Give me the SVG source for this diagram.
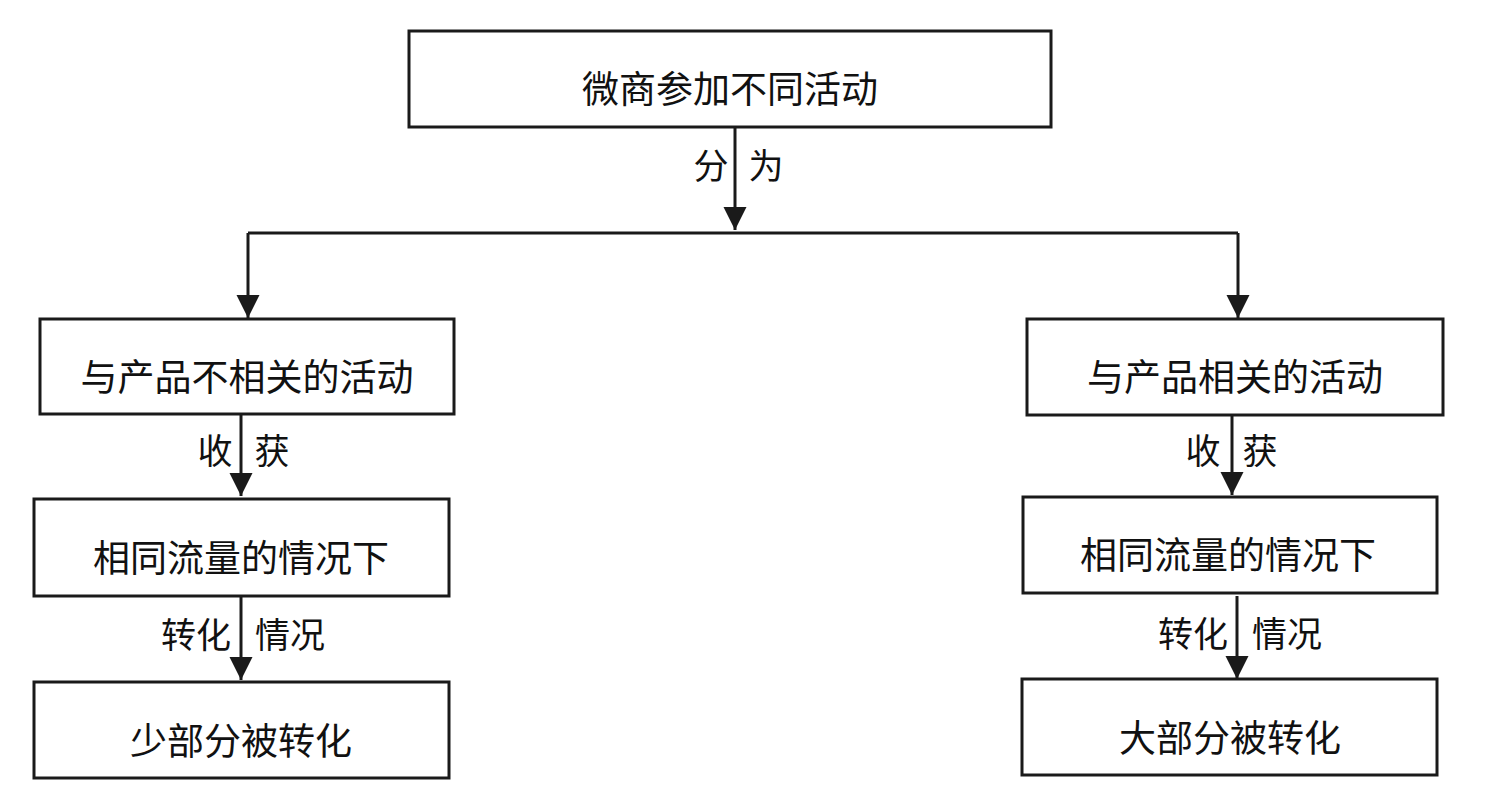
<svg xmlns="http://www.w3.org/2000/svg" width="1485" height="796" viewBox="0 0 1485 796">
<style>
.box{fill:#fff;stroke:#1a1a1a;stroke-width:3}
.t{font-family:"Noto Sans CJK SC","Noto Sans CJK JP",sans-serif;font-size:37px;fill:#111;text-anchor:middle}
.l{font-family:"Noto Sans CJK SC","Noto Sans CJK JP",sans-serif;font-size:35px;fill:#111;text-anchor:middle}
.c{fill:none;stroke:#1a1a1a;stroke-width:3}
</style>
<defs>
<marker id="ah" markerUnits="userSpaceOnUse" markerWidth="24" markerHeight="24" refX="23" refY="11.5" orient="auto">
<path d="M0,0 L23,11.5 L0,23 z" fill="#1a1a1a"/>
</marker>
</defs>
<rect width="1485" height="796" fill="#fff"/>
<g id="connectors">
<line class="c" x1="735" y1="127" x2="735" y2="230" marker-end="url(#ah)"/>
<line class="c" x1="248" y1="233" x2="1238" y2="233"/>
<line class="c" x1="248" y1="233" x2="248" y2="318" marker-end="url(#ah)"/>
<line class="c" x1="1238" y1="233" x2="1238" y2="318" marker-end="url(#ah)"/>
<line class="c" x1="241" y1="414" x2="241" y2="496" marker-end="url(#ah)"/>
<line class="c" x1="241" y1="596" x2="241" y2="680" marker-end="url(#ah)"/>
<line class="c" x1="1232" y1="415" x2="1232" y2="495" marker-end="url(#ah)"/>
<line class="c" x1="1237" y1="596" x2="1237" y2="679" marker-end="url(#ah)"/>
<text class="l" x="711" y="179">分</text>
<text class="l" x="766" y="179">为</text>
<text class="l" x="215" y="464">收</text>
<text class="l" x="272" y="464">获</text>
<text class="l" x="196" y="648">转化</text>
<text class="l" x="290" y="648">情况</text>
<text class="l" x="1203" y="464">收</text>
<text class="l" x="1260" y="464">获</text>
<text class="l" x="1193" y="647">转化</text>
<text class="l" x="1287" y="647">情况</text>
</g>
<g id="n-top">
<rect class="box" x="409" y="31" width="642" height="96"/>
<text class="t" x="730" y="103">微商参加不同活动</text>
</g>
<g id="n-left1">
<rect class="box" x="40" y="319" width="414" height="95"/>
<text class="t" x="247" y="391">与产品不相关的活动</text>
</g>
<g id="n-left2">
<rect class="box" x="34" y="499" width="415" height="97"/>
<text class="t" x="241" y="572">相同流量的情况下</text>
</g>
<g id="n-left3">
<rect class="box" x="34" y="682" width="415" height="96"/>
<text class="t" x="241" y="755">少部分被转化</text>
</g>
<g id="n-right1">
<rect class="box" x="1027" y="319" width="416" height="96"/>
<text class="t" x="1235" y="391">与产品相关的活动</text>
</g>
<g id="n-right2">
<rect class="box" x="1023" y="497" width="414" height="96"/>
<text class="t" x="1228" y="569">相同流量的情况下</text>
</g>
<g id="n-right3">
<rect class="box" x="1022" y="679" width="415" height="96"/>
<text class="t" x="1230" y="752">大部分被转化</text>
</g>
</svg>
